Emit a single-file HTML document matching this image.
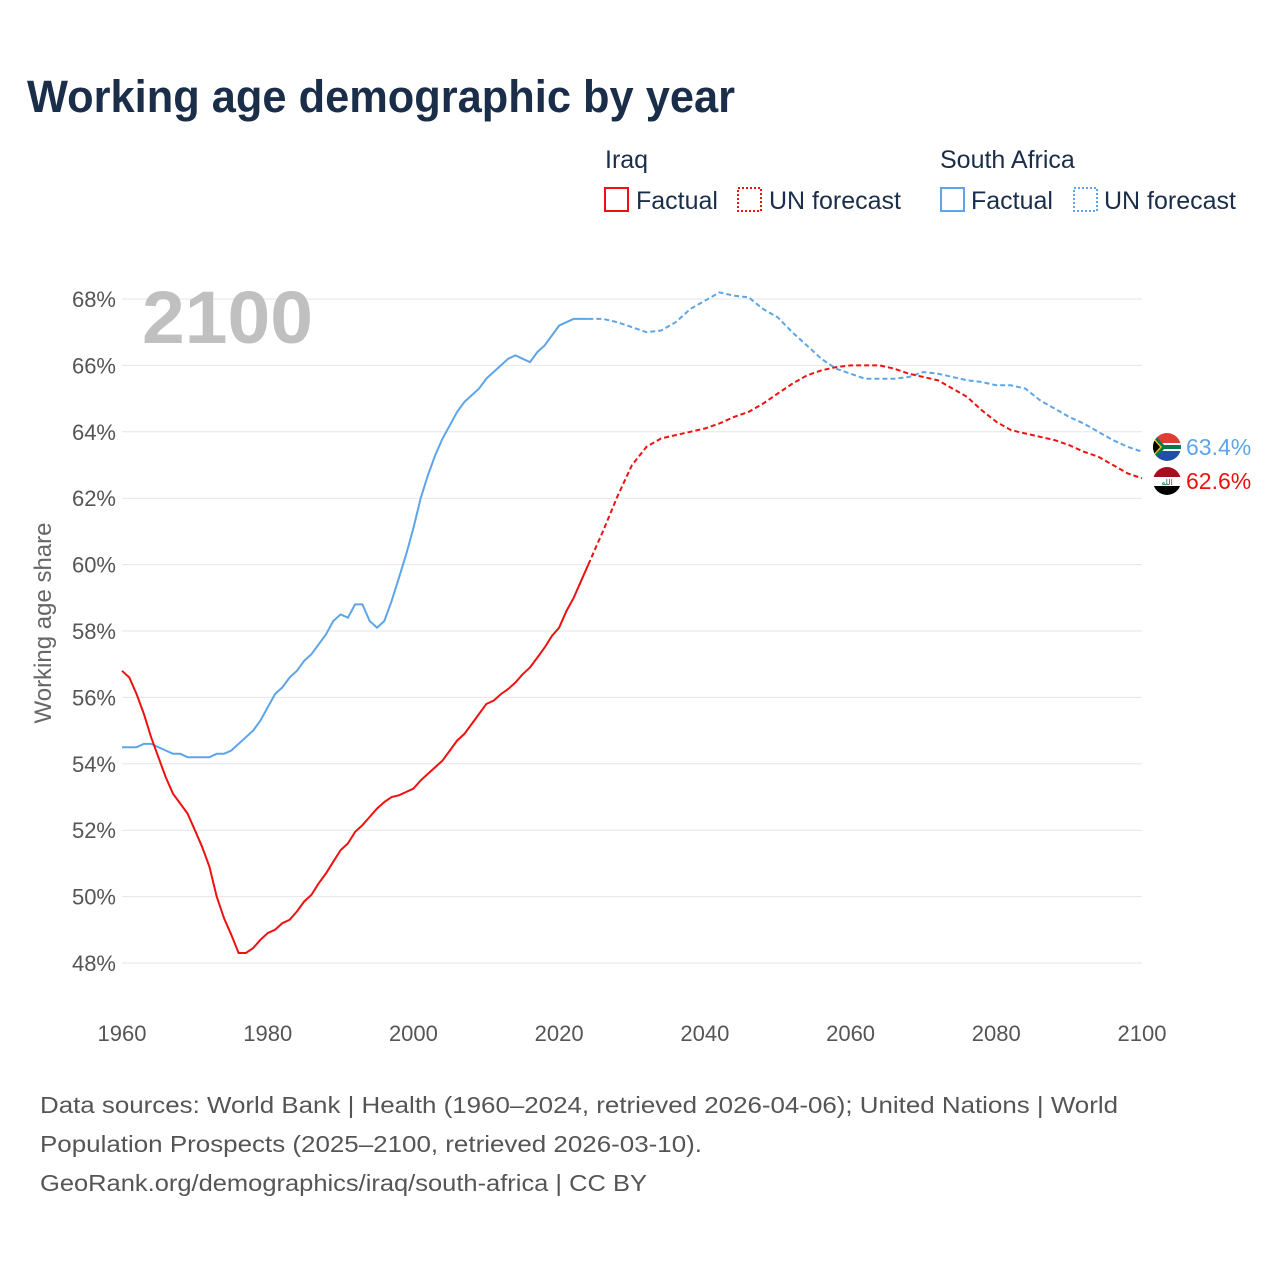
<!DOCTYPE html>
<html><head><meta charset="utf-8"><style>
body{margin:0;background:#fff;font-family:"Liberation Sans",sans-serif;}
svg text{font-family:"Liberation Sans",sans-serif;}
</style></head><body>
<svg id="chart" width="1280" height="1280">
<text x="27" y="112" font-size="45" font-weight="bold" fill="#1a2e4a" textLength="708" lengthAdjust="spacingAndGlyphs">Working age demographic by year</text>
<g font-size="25" fill="#1a2e4a">
<text x="605" y="168">Iraq</text>
<text x="940" y="168">South Africa</text>
<rect x="605" y="188" width="23" height="23" fill="none" stroke="#ee1111" stroke-width="2"/>
<text x="636" y="209">Factual</text>
<rect x="738" y="188" width="23" height="23" fill="none" stroke="#ee1111" stroke-width="2" stroke-dasharray="2,2"/>
<text x="769" y="209">UN forecast</text>
<rect x="941" y="188" width="23" height="23" fill="none" stroke="#5da5e8" stroke-width="2"/>
<text x="971" y="209">Factual</text>
<rect x="1074" y="188" width="23" height="23" fill="none" stroke="#5da5e8" stroke-width="2" stroke-dasharray="2,2"/>
<text x="1104" y="209">UN forecast</text>
</g>
<g id="grid"></g>
<text x="142" y="343" font-size="74" font-weight="bold" fill="#c0c0c0" textLength="171" lengthAdjust="spacingAndGlyphs">2100</text>
<text transform="translate(51,623) rotate(-90)" text-anchor="middle" font-size="24" fill="#666">Working age share</text>
<g id="series"></g>
<g>
<clipPath id="c1"><circle cx="1167" cy="447" r="14"/></clipPath>
<g clip-path="url(#c1)"><rect x="1150" y="433" width="34" height="14" fill="#e03c31"/><rect x="1150" y="447" width="34" height="14" fill="#1f4fa8"/><rect x="1150" y="443" width="34" height="8" fill="#fff"/><rect x="1150" y="445" width="34" height="4" fill="#007a4d"/><polygon points="1153,433 1166,447 1153,461" fill="#007a4d"/><polygon points="1153,437 1162,447 1153,457" fill="#ffb612"/><polygon points="1153,439 1160,447 1153,455" fill="#000"/></g></g>
<g>
<clipPath id="c2"><circle cx="1167" cy="481" r="14"/></clipPath>
<g clip-path="url(#c2)"><rect x="1150" y="467" width="34" height="10" fill="#a50e1c"/><rect x="1150" y="477" width="34" height="9" fill="#fff"/><rect x="1150" y="486" width="34" height="10" fill="#000"/><text x="1167" y="485" font-size="8" text-anchor="middle" fill="#007a3d">الله</text></g></g>
<text x="1186" y="455" font-size="23" fill="#5da5e8">63.4%</text>
<text x="1186" y="489" font-size="23" fill="#ee1111">62.6%</text>
<g font-size="23" fill="#555">
<text x="40" y="1113" textLength="1078" lengthAdjust="spacingAndGlyphs">Data sources: World Bank | Health (1960–2024, retrieved 2026-04-06); United Nations | World</text>
<text x="40" y="1152" textLength="662" lengthAdjust="spacingAndGlyphs">Population Prospects (2025–2100, retrieved 2026-03-10).</text>
<text x="40" y="1191" textLength="607" lengthAdjust="spacingAndGlyphs">GeoRank.org/demographics/iraq/south-africa | CC BY</text>
</g>
</svg>
<script>
const yTicks=[48,50,52,54,56,58,60,62,64,66,68];
const xTicks=[1960,1980,2000,2020,2040,2060,2080,2100];
const factYears=[];for(let y=1960;y<=2024;y++)factYears.push(y);
const foreYears=[2024];for(let y=2026;y<=2100;y+=2)foreYears.push(y);
const iraqFactual=[56.8,56.6,56.1,55.5,54.8,54.2,53.6,53.1,52.8,52.5,52.0,51.5,50.9,50.0,49.35,48.85,48.3,48.3,48.45,48.7,48.9,49.0,49.2,49.3,49.55,49.85,50.05,50.4,50.7,51.05,51.4,51.6,51.95,52.15,52.4,52.65,52.85,53.0,53.05,53.15,53.25,53.5,53.7,53.9,54.1,54.4,54.7,54.9,55.2,55.5,55.8,55.9,56.1,56.25,56.45,56.7,56.9,57.2,57.5,57.85,58.1,58.6,59.0,59.5,60.0];
const iraqForecast=[60.0,61.0,62.05,63.0,63.55,63.8,63.9,64.0,64.1,64.25,64.45,64.6,64.85,65.15,65.45,65.7,65.85,65.95,66.0,66.0,66.0,65.9,65.75,65.65,65.55,65.3,65.05,64.65,64.3,64.05,63.95,63.85,63.75,63.6,63.4,63.25,63.0,62.75,62.6];
const saFactual=[54.5,54.5,54.5,54.6,54.6,54.5,54.4,54.3,54.3,54.2,54.2,54.2,54.2,54.3,54.3,54.4,54.6,54.8,55.0,55.3,55.7,56.1,56.3,56.6,56.8,57.1,57.3,57.6,57.9,58.3,58.5,58.4,58.8,58.8,58.3,58.1,58.3,58.9,59.6,60.3,61.1,62.0,62.7,63.3,63.8,64.2,64.6,64.9,65.1,65.3,65.6,65.8,66.0,66.2,66.3,66.2,66.1,66.4,66.6,66.9,67.2,67.3,67.4,67.4,67.4];
const saForecast=[67.4,67.4,67.3,67.15,67.0,67.05,67.3,67.7,67.95,68.2,68.1,68.05,67.7,67.45,67.0,66.6,66.2,65.9,65.75,65.6,65.6,65.6,65.65,65.8,65.75,65.65,65.55,65.5,65.4,65.4,65.3,64.95,64.7,64.45,64.25,64.0,63.75,63.55,63.4];
const NS='http://www.w3.org/2000/svg';
const X=v=>122+(v-1960)*(1142-122)/140;
const Y=v=>299+(68-v)*(963-299)/20;
const grid=document.getElementById('grid');
yTicks.forEach(t=>{
 const l=document.createElementNS(NS,'line');
 l.setAttribute('x1',122);l.setAttribute('x2',1142);l.setAttribute('y1',Y(t));l.setAttribute('y2',Y(t));
 l.setAttribute('stroke','#e6e6e6');l.setAttribute('stroke-width','1');
 
 
 grid.appendChild(l);
 const tx=document.createElementNS(NS,'text');
 tx.setAttribute('x',116);tx.setAttribute('y',Y(t)+8);tx.setAttribute('text-anchor','end');
 tx.setAttribute('font-size','22');tx.setAttribute('fill','#555');tx.textContent=t+'%';
 
 
 grid.appendChild(tx);
});
xTicks.forEach(t=>{
 const tx=document.createElementNS(NS,'text');
 tx.setAttribute('x',X(t));tx.setAttribute('y',1041);tx.setAttribute('text-anchor','middle');
 tx.setAttribute('font-size','22');tx.setAttribute('fill','#555');tx.textContent=t;
 
 
 grid.appendChild(tx);
});
const ser=document.getElementById('series');
function line(xs,vs,color,dash,name){
 const p=document.createElementNS(NS,'path');
 p.setAttribute('d',xs.map((x,i)=>(i?'L':'M')+X(x).toFixed(1)+','+Y(vs[i]).toFixed(1)).join(''));
 p.setAttribute('fill','none');p.setAttribute('stroke',color);p.setAttribute('stroke-width','2');
 if(dash)p.setAttribute('stroke-dasharray',dash);
 
 
 ser.appendChild(p);
}
line(factYears,saFactual,'#5da5e8',null,'sa-factual-line');
line(foreYears,saForecast,'#5da5e8','5,3','sa-forecast-line');
line(factYears,iraqFactual,'#ee1111',null,'iraq-factual-line');
line(foreYears,iraqForecast,'#ee1111','5,3','iraq-forecast-line');
</script>
</body></html>
